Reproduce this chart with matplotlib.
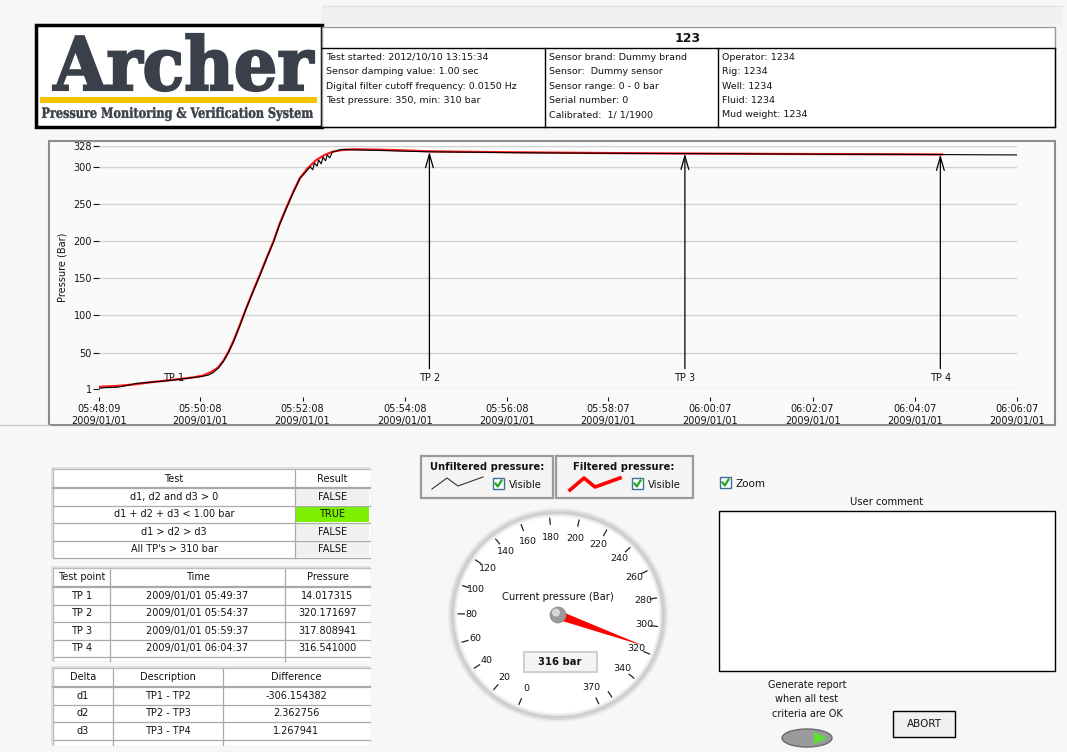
import numpy as np
import matplotlib.pyplot as plt
from matplotlib.patches import Rectangle, Polygon, Ellipse, PathPatch
from matplotlib.textpath import TextPath
from matplotlib.font_manager import FontProperties
from matplotlib.transforms import Affine2D

W, H = 1067, 752

tick_times = ["05:48:09", "05:50:08", "05:52:08", "05:54:08", "05:56:08",
              "05:58:07", "06:00:07", "06:02:07", "06:04:07", "06:06:07"]
tick_date = "2009/01/01"
y_ticks = [1, 50, 100, 150, 200, 250, 300, 328]

# unfiltered pressure, seconds after 05:48:09
raw_t = [0, 10, 21, 30, 44, 55, 68, 80, 95, 108, 119, 128, 134, 140, 146, 152,
         158, 165, 173, 181, 189, 197, 205, 212, 220, 228, 236, 242, 248, 251,
         253, 256, 258, 261, 263, 266, 268, 271, 274, 278, 283, 290, 300, 330,
         360, 388, 420, 460, 500, 540, 590, 640, 688, 740, 790, 840, 900, 950,
         988, 1030, 1078]
raw_p = [2, 3, 3.3, 5, 8.6, 9.5, 10.8, 12, 14, 16, 17.6, 19.5, 23, 29, 37.8, 50,
         64.6, 85, 109.6, 132, 154, 177, 199, 222, 244, 265, 284.5, 292, 300, 296,
         305, 301, 309, 304, 313, 308, 316, 312, 320, 321, 323, 323.5, 322.8, 322,
         321, 320.2, 319.8, 319.4, 318.9, 318.6, 318.2, 318, 317.8, 317.6, 317.3,
         317.0, 316.9, 316.7, 316.5, 316.2, 316.0]

# filtered pressure
filt_t = [0, 20, 40, 60, 80, 95, 110, 122, 132, 140, 146, 152, 158, 165, 173,
          181, 189, 197, 205, 212, 220, 228, 236, 245, 255, 265, 275, 285, 300,
          330, 360, 388, 430, 480, 540, 600, 650, 688, 740, 800, 860, 920, 960, 990]
filt_p = [4, 5, 7, 10, 12.5, 14.5, 16.5, 19, 24, 30, 39, 51, 66, 86, 110, 133,
          155, 178, 200, 223, 245, 266, 285, 298, 309, 316, 320.5, 322.5, 323.5,
          323, 322, 320.8, 320.2, 319.6, 319, 318.5, 318.1, 317.9, 317.6, 317.3,
          317.1, 316.9, 316.7, 316.6]

tp_names = ["TP 1", "TP 2", "TP 3", "TP 4"]
tp_times = ["05:49:37", "05:54:37", "05:59:37", "06:04:37"]
tp_pressure = [14.017315, 320.171697, 317.808941, 316.541000]

test_names = ["d1, d2 and d3 > 0", "d1 + d2 + d3 < 1.00 bar", "d1 > d2 > d3",
              "All TP's > 310 bar"]
test_results = ["FALSE", "TRUE", "FALSE", "FALSE"]

delta_names = ["d1", "d2", "d3"]
delta_desc = ["TP1 - TP2", "TP2 - TP3", "TP3 - TP4"]
delta_diff = [-306.154382, 2.362756, 1.267941]

gauge_value = 316
gauge_max = 370
gauge_ticks = list(range(0, 361, 20)) + [370]
gauge_labels = list(range(0, 341, 20)) + [370]

info_col1 = ["Test started: 2012/10/10 13:15:34", "Sensor damping value: 1.00 sec",
             "Digital filter cutoff frequency: 0.0150 Hz", "Test pressure: 350, min: 310 bar"]
info_col2 = ["Sensor brand: Dummy brand", "Sensor:  Dummy sensor", "Sensor range: 0 - 0 bar",
             "Serial number: 0", "Calibrated:  1/ 1/1900"]
info_col3 = ["Operator: 1234", "Rig: 1234", "Well: 1234", "Fluid: 1234", "Mud weight: 1234"]


def secs(s):
    h, m, sec = [int(v) for v in s.split(":")]
    return h * 3600 + m * 60 + sec


t0 = secs(tick_times[0])
tick_pos = [secs(s) - t0 for s in tick_times]
tp_pos = [secs(s) - t0 for s in tp_times]

plt.rcParams['font.family'] = 'DejaVu Sans'
fig = plt.figure(figsize=(W / 100, H / 100), dpi=100)
fig.patch.set_facecolor("#f7f7f7")

# background canvas in pixel coordinates
bg = fig.add_axes([0, 0, 1, 1])
bg.set_xlim(0, W)
bg.set_ylim(H, 0)
bg.axis("off")

GRID = "#a9a9a9"
TXT = "#141414"


def rect(x0, y0, x1, y1, fc="white", ec="black", lw=1.0, z=1):
    bg.add_patch(Rectangle((x0, y0), x1 - x0, y1 - y0, fc=fc, ec=ec, lw=lw, zorder=z))


def text(x, y, s, size=7, ha="left", va="center", **kw):
    bg.text(x, y, s, fontsize=size, ha=ha, va=va, color=kw.pop("color", TXT), **kw)


def fit_text(s, x0, y0, x1, y1, color, weight="bold", family="DejaVu Serif", stroke=0.0):
    tp = TextPath((0, 0), s, size=1, prop=FontProperties(family=family, weight=weight))
    ext = tp.get_extents()
    sx = (x1 - x0) / ext.width
    sy = (y1 - y0) / ext.height
    tr = Affine2D().translate(-ext.x0, -ext.y1).scale(sx, -sy).translate(x0, y0)
    bg.add_patch(PathPatch(tr.transform_path(tp), fc=color,
                           ec=color if stroke else "none", lw=stroke, zorder=3))


def checkbox(x, y, size=11):
    rect(x, y, x + size, y + size, fc="white", ec="#3f6e97", lw=1.0, z=3)
    bg.plot([x + 2.5, x + 4.8, x + size - 2.5], [y + 5.5, y + 8.5, y + 2.5],
            color="#1fa81f", lw=1.6, zorder=4)


# faint strip above header
rect(322, 7, 1062, 25, fc="#f0f0f0", ec="none", z=0.5)
bg.plot([322, 1062], [6, 6], color="#e4e4e4", lw=1.0, zorder=0.6)

# ---- header: logo ----
rect(36, 25, 322, 127, fc="white", ec="black", lw=2.5)
fit_text("Archer", 53, 34, 314, 91, "#3a4049", stroke=1.6)
rect(40, 97, 317, 103, fc="#f5c400", ec="none", z=2)
fit_text("Pressure Monitoring & Verification System", 42, 107, 313, 121, "#3a4049", stroke=0.3)

# ---- header: info table ----
rect(322, 27, 1055, 127, fc="white", ec="#9a9a9a", lw=1.0)
bg.plot([322, 1055], [48, 48], color="black", lw=1.0, zorder=2)
bg.plot([322, 1055], [127, 127], color="black", lw=1.0, zorder=2)
bg.plot([1055, 1055], [48, 127], color="black", lw=1.0, zorder=2)
for xc in (545, 718):
    bg.plot([xc, xc], [48, 127], color="black", lw=1.0, zorder=2)
text(688, 38, "123", size=9, ha="center", fontweight="bold")
for col, xs in ((info_col1, 326), (info_col2, 549), (info_col3, 722)):
    for i, s in enumerate(col):
        text(xs, 57.5 + i * 14.3, s, size=6.8)

# ---- chart panel ----
rect(49, 141, 1055, 425, fc="#fafafa", ec="#8c8c8c", lw=1.5)
bg.plot([0, 49], [425, 425], color="#c8c8c8", lw=1.0, zorder=1)

ax = fig.add_axes([99 / W, 1 - 389 / H, (1017 - 99) / W, (389 - 146) / H])
ax.set_facecolor("#fafafa")
ax.plot(filt_t, filt_p, color="#ff1a1a", lw=1.6, zorder=3)
ax.plot(raw_t, raw_p, color="black", lw=0.8, zorder=4)
ax.set_xlim(0, tick_pos[-1])
ax.set_ylim(y_ticks[0], y_ticks[-1])
ax.set_yticks(y_ticks)
ax.set_xticks(tick_pos)
ax.set_xticklabels([f"{s}\n{tick_date}" for s in tick_times])
ax.grid(axis="y", color="#d2d2d2", lw=1.0)
ax.set_axisbelow(True)
for sp in ax.spines.values():
    sp.set_color("none")
ax.spines["bottom"].set_position(("outward", 6))
ax.tick_params(axis="x", length=3, width=0.8, labelsize=7, pad=2, colors=TXT)
ax.tick_params(axis="y", length=4, width=0.8, labelsize=7, pad=1, colors=TXT)
ax.set_ylabel("Pressure (Bar)", fontsize=7, color=TXT, labelpad=4)

label_y = 16
for name, tt, pp in zip(tp_names, tp_pos, tp_pressure):
    if pp > label_y + 20:
        ax.annotate(name, xy=(tt, pp), xytext=(tt, label_y), ha="center", va="center",
                    fontsize=7, color=TXT, zorder=5,
                    arrowprops=dict(arrowstyle="->, head_length=0.7, head_width=0.2",
                                    color="black", lw=0.9, shrinkA=1, shrinkB=0,
                                    mutation_scale=14))
    else:
        ax.text(tt, label_y, name, ha="center", va="center", fontsize=7, color=TXT, zorder=5)


# ---- tables ----
def draw_table(x_edges, y_top, header_h, row_h, n_rows, y_bottom, header, rows,
               cell_fc=None):
    x0, x1 = x_edges[0], x_edges[-1]
    rect(x0 - 2, y_top - 2, x1, y_bottom, fc="#e2e2e2", ec="none", z=1)
    rect(x0, y_top, x1, y_bottom, fc="white", ec="none", z=1)
    for j, h in enumerate(header):
        text((x_edges[j] + x_edges[j + 1]) / 2, y_top + header_h / 2, h, size=7, ha="center")
    for i, row in enumerate(rows):
        yc = y_top + header_h + (i + 0.5) * row_h
        for j, val in enumerate(row):
            if cell_fc is not None and cell_fc[i][j] is not None:
                rect(x_edges[j] + 1, yc - row_h / 2 + 1, x_edges[j + 1] - 1, yc + row_h / 2 - 1,
                     fc=cell_fc[i][j], ec="none", z=1.5)
            text((x_edges[j] + x_edges[j + 1]) / 2, yc, val, size=7, ha="center")
    bg.plot([x0, x1], [y_top + header_h, y_top + header_h], color=GRID, lw=1.6, zorder=2)
    for i in range(1, n_rows + 1):
        yy = y_top + header_h + i * row_h
        bg.plot([x0, x1], [yy, yy], color=GRID, lw=0.9, zorder=2)
    for xe in x_edges[1:-1]:
        bg.plot([xe, xe], [y_top, y_bottom], color=GRID, lw=0.9, zorder=2)
    bg.plot([x0, x0], [y_top, y_bottom], color="#bdbdbd", lw=1.0, zorder=2)
    bg.plot([x0, x1], [y_top, y_top], color="#bdbdbd", lw=1.0, zorder=2)


fc1 = [[None, "#f0f0f0"] for _ in test_results]
for i, r in enumerate(test_results):
    if r == "TRUE":
        fc1[i][1] = "#7cf000"
draw_table([53, 295, 370], 469, 19, 17.5, 4, 558, ["Test", "Result"],
           [[n, r] for n, r in zip(test_names, test_results)], cell_fc=fc1)

draw_table([53, 110, 285, 370], 568, 19, 17.5, 4, 661, ["Test point", "Time", "Pressure"],
           [[n, f"{tick_date} {t}", f"{p:.6f}"]
            for n, t, p in zip(tp_names, tp_times, tp_pressure)])

draw_table([53, 113, 223, 370], 668, 19, 17.5, 3, 745, ["Delta", "Description", "Difference"],
           [[n, d, f"{v:.6f}"] for n, d, v in zip(delta_names, delta_desc, delta_diff)])

# ---- legend boxes ----
for x0, x1 in ((421, 553), (556, 693)):
    rect(x0, 456, x1, 498, fc="#f4f4f4", ec="#9a9a9a", lw=1.6)
text(487, 467, "Unfiltered pressure:", size=7.2, ha="center", fontweight="bold")
text(624, 467, "Filtered pressure:", size=7.2, ha="center", fontweight="bold")
bg.plot([432, 447, 458, 483], [489, 478, 486, 477], color="#333333", lw=0.8, zorder=3)
bg.plot([570, 584, 595, 620], [490, 478, 487, 478], color="#ff0000", lw=2.6, zorder=3)
checkbox(493, 478)
text(509, 484.5, "Visible", size=7.2)
checkbox(632, 478)
text(648, 484.5, "Visible", size=7.2)

# ---- gauge ----
cx, cy = 558, 615
sx = 1.03  # dial is slightly wider than tall on screen
for r, c in ((107, "#ebebeb"), (105, "#d6d6d6"), (103, "#cdcdcd"), (101, "#e6e6e6"),
             (99.5, "#f4f4f4"), (98, "white")):
    bg.add_patch(Ellipse((cx, cy), 2 * r * sx, 2 * r, fc=c, ec="none", zorder=2))


def ang(v):
    return np.deg2rad(247 - v * 313.0 / gauge_max)


def gpos(a, r):
    return cx + sx * r * np.cos(a), cy - r * np.sin(a)


for v in gauge_ticks:
    a = ang(v)
    (xa, ya), (xb, yb) = gpos(a, 91), gpos(a, 97)
    bg.plot([xa, xb], [ya, yb], color="#222222", lw=0.9, zorder=3)
for v in gauge_labels:
    a = ang(v)
    xl, yl = gpos(a, 77 + 7 * abs(np.cos(a)))
    text(xl, yl, str(v), size=6.8, ha="center", zorder=3)

text(cx, 597, "Current pressure (Bar)", size=7.2, ha="center", zorder=3)
a = ang(gauge_value)
ux, uy = np.cos(a), -np.sin(a)
nx, ny = -uy, ux
tipx, tipy = gpos(a, 89)
needle = [(cx + 4.5 * nx, cy + 4.5 * ny), (tipx, tipy), (cx - 4.5 * nx, cy - 4.5 * ny)]
bg.add_patch(Polygon(needle, closed=True, fc="#ff0000", ec="none", zorder=4))
bg.add_patch(Ellipse((cx, cy), 16, 16, fc="#9a9a9a", ec="#888888", lw=0.5, zorder=5))
bg.add_patch(Ellipse((cx - 2, cy - 2.5), 8, 8, fc="#d6d6d6", ec="none", zorder=6))
rect(524, 652, 597, 672, fc="#f4f4f4", ec="#d0d0d0", lw=1.5, z=3)
text(560, 662, f"{gauge_value} bar", size=7.2, ha="center", fontweight="bold", zorder=4)

# ---- right side controls ----
checkbox(720, 477)
text(735, 484, "Zoom", size=7.5)
text(887, 502, "User comment", size=7.2, ha="center")
rect(719, 511, 1055, 671, fc="white", ec="black", lw=1.0)
for i, s in enumerate(["Generate report", "when all test", "criteria are OK"]):
    text(807, 685 + i * 14.5, s, size=7, ha="center")
bg.add_patch(Ellipse((807, 738), 50, 18, fc="#9b9b9b", ec="#6a6a6a", lw=1.0, zorder=3))
bg.add_patch(Polygon([(814, 732), (827, 738), (814, 744)], closed=True, fc="#55e52a",
                     ec="none", zorder=4))
rect(893, 711, 955, 737, fc="#f0f0f0", ec="black", lw=1.0)
text(924, 724, "ABORT", size=7.5, ha="center")

fig.savefig("out.png", dpi=100, facecolor=fig.get_facecolor())
